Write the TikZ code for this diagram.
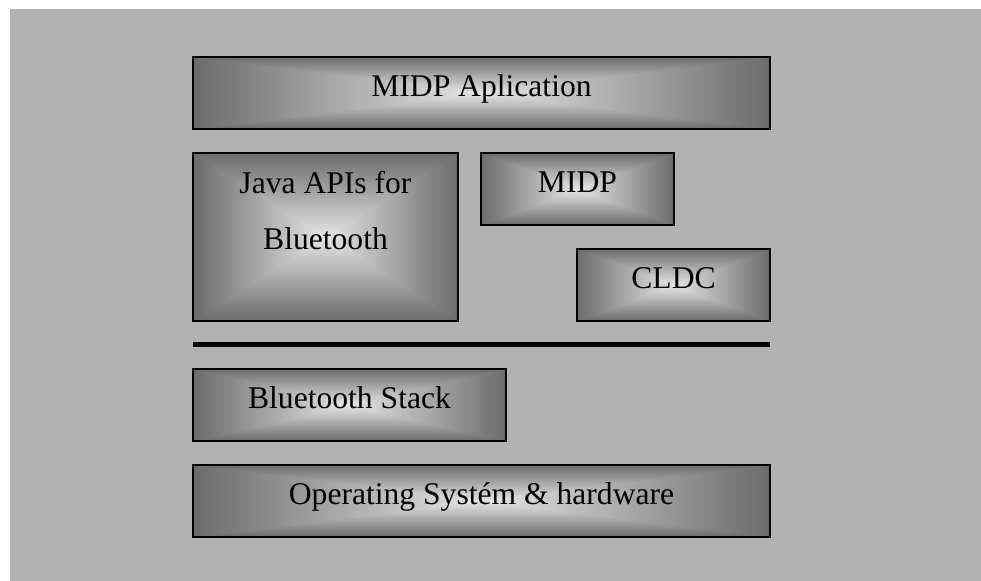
\documentclass[tikz,border=0pt]{standalone}
\usepackage{fontspec}
\setmainfont{Liberation Serif}
\usetikzlibrary{positioning}

% rectangular gradient, dark at the border and light in the middle
\pgfdeclarefunctionalshading{layershade}{\pgfpoint{-50bp}{-50bp}}{\pgfpoint{50bp}{50bp}}{}{%
  abs exch abs 2 copy lt {exch} if pop
  25 exch sub 25 div
  dup 0 lt {pop 0} if
  0.48 mul 0.42 add dup dup}

\begin{document}
\begin{tikzpicture}[x=0.5pt,y=-0.5pt]
		\def \boxH {36pt};
		\tikzset{layer/.style={draw, line width=1pt, shading=layershade,
				minimum width=#1, minimum height=\boxH, inner sep=0pt,
				text height=11pt, text depth=7.6pt,
				font=\fontsize{15.8}{19}\selectfont}}
		\useasboundingbox (0,0) rectangle (981,581);
		\fill[black!30] (10,9) rectangle (981,581);
		% upper part
		\node[layer=288.5pt] (app) at (481.5,93) {MIDP Aplication};
		\node[layer=132.5pt, minimum height=84pt,
			label={[align=center, yshift=13pt, font=\fontsize{15.8}{28}\selectfont]center:Java APIs for\\Bluetooth}] (java) at (325.5,237) {};
		\node[layer=96.5pt] (midp) at (577.5,189) {MIDP};
		\node[layer=96.5pt] (cldc) at (673.5,285) {CLDC};
		% separator
		\coordinate (sepL) at (193,345);
		\coordinate (sepR) at (770,345);
		\draw[line width=2.5pt] (sepL) -- (sepR);
		% lower part
		\node[layer=156.5pt] (stack) at (349.5,405) {Bluetooth Stack};
		\node[layer=288.5pt] (os) at (481.5,501) {Operating Systém \& hardware};
\end{tikzpicture}
\end{document}
